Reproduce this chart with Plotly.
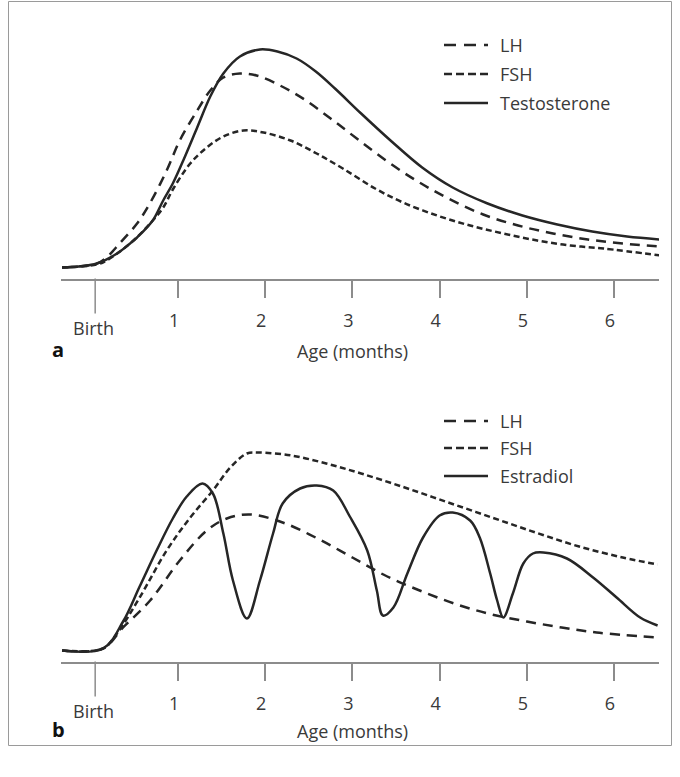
import plotly.graph_objects as go

# ---------------- data (x in months after birth, y in arbitrary units) -------------
MONTH_TICKS = [1, 2, 3, 4, 5, 6]
MONTH_LABELS = ["1", "2", "3", "4", "5", "6"]
BIRTH_X = 0.05

# Panel a
A_T_X = [-0.33, 0.07, 0.30, 0.45, 0.53, 0.71, 0.83, 0.94, 1.06, 1.22, 1.37, 1.52, 1.71, 1.94,
         2.14, 2.36, 2.58, 2.80, 3.10, 3.45, 3.80, 4.15, 4.55, 4.95, 5.35, 5.75, 6.15, 6.53]
A_T_Y = [11, 15, 25, 35, 41, 58, 78, 95, 118, 151, 182, 205, 222, 229,
         227, 220, 207, 190, 165, 137, 111, 91, 75, 63, 54, 47, 42, 39]

A_LH_X = [-0.33, 0.07, 0.18, 0.33, 0.53, 0.67, 0.87, 1.02, 1.22, 1.37, 1.52, 1.71, 1.90,
          2.17, 2.45, 2.75, 3.05, 3.40, 3.75, 4.10, 4.50, 4.90, 5.30, 5.70, 6.10, 6.53]
A_LH_Y = [11, 15, 21, 35, 55, 74, 108, 138, 168, 188, 201, 205, 203,
          193, 179, 160, 140, 117, 97, 80, 64, 53, 45, 39, 35, 32]

A_FSH_X = [-0.33, 0.07, 0.18, 0.45, 0.68, 0.83, 0.94, 1.14, 1.33, 1.52, 1.75, 1.98,
           2.29, 2.59, 2.89, 3.26, 3.58, 3.97, 4.35, 4.73, 5.12, 5.50, 5.88, 6.53]
A_FSH_Y = [11, 14, 18, 35, 55, 71, 89, 115, 131, 142, 148, 146,
           138, 125, 110, 90, 76, 63, 53, 45, 38, 33, 30, 23]

# Panel b
B_E_X = [-0.33, 0.14, 0.37, 0.56, 0.76, 0.94, 1.10, 1.28, 1.40, 1.52, 1.63, 1.79, 1.94, 2.09,
         2.20, 2.40, 2.59, 2.78, 2.97, 3.17, 3.28, 3.35, 3.47, 3.63, 3.81, 4.00, 4.15, 4.35,
         4.46, 4.58, 4.66, 4.73, 4.84, 4.96, 5.07, 5.19, 5.46, 5.76, 6.03, 6.30, 6.50]
B_E_Y = [11, 13, 40, 75, 112, 143, 165, 178, 168, 128, 81, 43, 81, 128,
         158, 173, 176, 171, 145, 111, 71, 46, 54, 88, 124, 146, 149, 141,
         124, 88, 61, 44, 68, 98, 108, 109, 103, 84, 64, 44, 36]

B_FSH_X = [-0.33, 0.14, 0.30, 0.56, 0.87, 1.14, 1.40, 1.60, 1.79, 1.91, 2.30, 2.70, 3.10,
           3.60, 4.10, 4.60, 5.10, 5.60, 6.10, 6.50]
B_FSH_Y = [11, 13, 28, 64, 111, 144, 171, 194, 208, 209, 206, 198, 188,
           174, 159, 144, 129, 115, 104, 97]

B_LH_X = [-0.33, 0.14, 0.37, 0.68, 1.02, 1.33, 1.56, 1.83, 2.20, 2.60, 3.00, 3.40, 3.80,
          4.20, 4.60, 5.00, 5.40, 5.80, 6.50]
B_LH_Y = [11, 13, 34, 61, 101, 131, 143, 147, 139, 123, 104, 85, 70,
          57, 47, 40, 34, 29, 24]

LEGEND_A = ["LH", "FSH", "Testosterone"]
LEGEND_B = ["LH", "FSH", "Estradiol"]

# ---------------- styling -------------
W, H = 680, 777
FONT = "Open Sans"
INK = "#262626"
AXC = "#8c8c8c"
TXT = "#3a3a3a"
LW = 2.5
FS = 18
DASH_LH = "10px,7px"
DASH_FSH = "6px,3.5px"


def px_x(p):
    return p / W


def px_y(p):
    return 1 - p / H


fig = go.Figure()


def add(x, y, dash, xa, ya):
    fig.add_trace(go.Scatter(
        x=x, y=y, mode="lines", xaxis=xa, yaxis=ya, showlegend=False,
        line=dict(color=INK, width=LW, dash=dash, shape="spline", smoothing=1.0),
        hoverinfo="skip"))


add(A_LH_X, A_LH_Y, DASH_LH, "x", "y")
add(A_FSH_X, A_FSH_Y, DASH_FSH, "x", "y")
add(A_T_X, A_T_Y, "solid", "x", "y")
add(B_LH_X, B_LH_Y, DASH_LH, "x2", "y2")
add(B_FSH_X, B_FSH_Y, DASH_FSH, "x2", "y2")
add(B_E_X, B_E_Y, "solid", "x2", "y2")

xdom = [px_x(61), px_x(659)]
xrange = [-0.342, 6.516]

A_BOT, A_TOP = 278.5, 20
B_BOT, B_TOP = 661.5, 400

xaxis_common = dict(
    domain=xdom, range=xrange, showline=True, linecolor=AXC, linewidth=1.5,
    ticks="outside", ticklen=18, tickwidth=1.5, tickcolor=AXC,
    tickvals=MONTH_TICKS, ticktext=MONTH_LABELS, showgrid=False, zeroline=False,
    tickfont=dict(family=FONT, size=FS, color=TXT), ticklabelstandoff=7,
    ticklabelshift=-4, fixedrange=True)

yaxis_common = dict(visible=False, showgrid=False, zeroline=False, fixedrange=True)

fig.update_layout(
    width=W, height=H, margin=dict(l=0, r=0, t=0, b=0),
    paper_bgcolor="white", plot_bgcolor="white",
    xaxis=dict(**xaxis_common, anchor="y"),
    yaxis=dict(**yaxis_common, domain=[px_y(A_BOT), px_y(A_TOP)], range=[0, A_BOT - A_TOP]),
    xaxis2=dict(**xaxis_common, anchor="y2"),
    yaxis2=dict(**yaxis_common, domain=[px_y(B_BOT), px_y(B_TOP)], range=[0, B_BOT - B_TOP]),
)

shapes = []
annotations = []

# outer frame
shapes.append(dict(type="rect", xref="paper", yref="paper",
                   x0=px_x(8.5), x1=px_x(671.5), y0=px_y(745.5), y1=px_y(1.5),
                   line=dict(color="#9a9a9a", width=1)))

for xa, ya, bot, top, lab, t_off, l_off in [("x", "y", A_BOT, A_TOP, "a", 72, 71),
                                            ("x2", "y2", B_BOT, B_TOP, "b", 69, 68)]:
    hgt = bot - top
    # long birth tick
    shapes.append(dict(type="line", xref=xa, yref=ya + " domain",
                       x0=BIRTH_X, x1=BIRTH_X, y0=0, y1=-35 / hgt,
                       line=dict(color=AXC, width=1.5)))
    annotations.append(dict(text="Birth", xref=xa, yref=ya + " domain", x=BIRTH_X, y=0,
                            yanchor="middle", xanchor="center", yshift=-49.5, xshift=-2,
                            showarrow=False, font=dict(family=FONT, size=FS, color=TXT)))
    annotations.append(dict(text="Age (months)", xref="paper", yref="paper",
                            x=px_x(352), y=px_y(bot + t_off), yanchor="middle", xanchor="center",
                            showarrow=False, font=dict(family=FONT, size=FS, color=TXT)))
    annotations.append(dict(text="<b>%s</b>" % lab, xref="paper", yref="paper",
                            x=px_x(58), y=px_y(bot + l_off), yanchor="middle", xanchor="center",
                            showarrow=False, font=dict(family=FONT, size=20, color="#111")))

# legends
for rows, names in [([45, 74, 103], LEGEND_A), ([421, 448, 476], LEGEND_B)]:
    for ry, name, dash in zip(rows, names, ["12px,8px", "8px,4px", "solid"]):
        shapes.append(dict(type="line", xref="paper", yref="paper",
                           x0=px_x(444), x1=px_x(488), y0=px_y(ry), y1=px_y(ry),
                           line=dict(color=INK, width=LW, dash=dash)))
        annotations.append(dict(text=name, xref="paper", yref="paper",
                                x=px_x(498), y=px_y(ry), xanchor="left", yanchor="middle",
                                showarrow=False, font=dict(family=FONT, size=FS, color=TXT)))

fig.update_layout(shapes=shapes, annotations=annotations)

fig.write_html("out.html")
